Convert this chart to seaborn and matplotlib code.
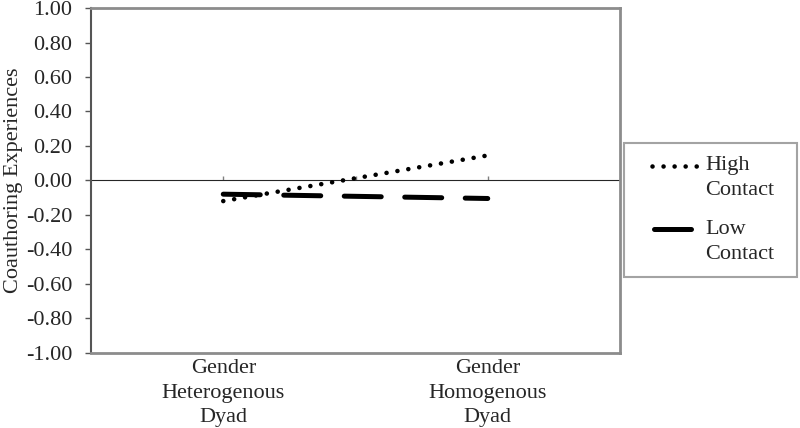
import numpy as np
import pandas as pd
import matplotlib
matplotlib.use("Agg")
import matplotlib.pyplot as plt
import seaborn as sns
from matplotlib.lines import Line2D

# data
dyads = ["Gender\nHeterogenous\nDyad", "Gender\nHomogenous\nDyad"]
high_contact = [-0.12, 0.145]
low_contact = [-0.08, -0.105]
series_labels = ["High\nContact", "Low\nContact"]
yticks = [-1.0, -0.8, -0.6, -0.4, -0.2, 0.0, 0.2, 0.4, 0.6, 0.8, 1.0]

df = pd.DataFrame({
    "dyad": dyads * 2,
    "value": high_contact + low_contact,
    "contact": [series_labels[0]] * 2 + [series_labels[1]] * 2,
})

sns.set_style("white")
plt.rcParams["font.family"] = ["Liberation Serif", "DejaVu Serif"]
plt.rcParams["font.size"] = 16

fig = plt.figure(figsize=(8, 4.28), dpi=100)
ax = fig.add_axes([0.11375, 0.176, 0.66125, 0.805])

dot_dash = (0.01, 2.4)
long_dash = (7.4, 4.7)
sns.lineplot(data=df, x="dyad", y="value", hue="contact", style="contact",
             palette=["black", "black"],
             dashes={series_labels[0]: dot_dash, series_labels[1]: long_dash},
             sort=False, ax=ax, legend=False)

lws = [3.3, 3.6]
for line, lw in zip(ax.get_lines(), lws):
    line.set_linewidth(lw)
    line.set_dash_capstyle("round")
    line.set_solid_capstyle("round")

ax.set_xlim(-0.5, 1.5)
ax.set_ylim(-1, 1)
ax.set_yticks(yticks)
ax.set_yticklabels([f"{v:.2f}" for v in yticks])
ax.set_xticks([0, 1])
ax.set_xticklabels(dyads, linespacing=1.4)
ax.set_xlabel("")
ax.set_ylabel("Coauthoring Experiences", labelpad=2)

for side in ["top", "right", "bottom"]:
    ax.spines[side].set_color("#8c8c8c")
    ax.spines[side].set_linewidth(2)
ax.spines["left"].set_color("#555555")
ax.spines["left"].set_linewidth(1.5)

ax.tick_params(axis="y", direction="out", length=4.5, width=1, color="#555555",
               pad=9, left=True, labelsize=16)
ax.tick_params(axis="x", length=0, pad=4.5, labelsize=16)

# zero line with category ticks
sec = ax.secondary_xaxis(0.5)
sec.set_xticks([0, 0.5, 1])
sec.set_xticklabels([])
sec.tick_params(direction="out", length=3, width=1, color="#808080")
sec.spines["bottom"].set_color("#808080")
sec.spines["bottom"].set_linewidth(1)

# legend, box on the right of the plot
handles = [
    Line2D([], [], color="black", lw=3.3, dashes=dot_dash, dash_capstyle="round"),
    Line2D([], [], color="black", lw=3.6, solid_capstyle="round"),
]
leg = fig.legend(handles, series_labels, loc="upper left",
                 bbox_to_anchor=(624 / 800, 0, 173 / 800, 1 - 143 / 428),
                 mode="expand", borderaxespad=0, frameon=True,
                 fancybox=False, edgecolor="#8c8c8c", handlelength=2.8,
                 handletextpad=0.27, labelspacing=0.9, borderpad=0.6,
                 fontsize=16)
leg.get_frame().set_linewidth(1.5)
for t in leg.get_texts():
    t.set_linespacing(1.4)

# put the handle next to the first line of each label
spans = [(10.8, 44.0), (11.9, 38.6)]
for h, (a, b) in zip(leg.legend_handles, spans):
    x0 = min(h.get_xdata())
    y = h.get_ydata()[0] + 8.5
    h.set_data([x0 + a, x0 + b], [y, y])

fig.savefig("out.png", dpi=100, facecolor="white")
